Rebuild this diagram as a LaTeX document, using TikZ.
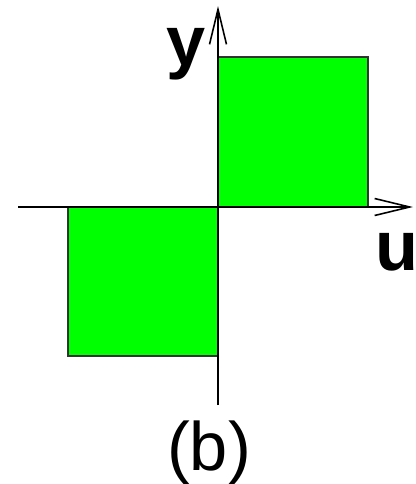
\documentclass[tikz,border=0pt]{standalone}
\usepackage{fontspec}
\setmainfont{Liberation Sans}
\usetikzlibrary{arrows.meta}

\begin{document}
\begin{tikzpicture}[
  x=0.02cm, y=-0.02cm,
  axis/.style={line width=0.9pt, -{Straight Barb[length=7mm, width=3.4mm, line width=0.9pt]}},
  quad/.style={draw=black!80, line width=0.6pt, fill=green},
  lbl/.style={anchor=base, inner sep=0pt, font=\fontsize{40}{40}\selectfont\bfseries},
  captxt/.style={anchor=base, inner sep=0pt, font=\fontsize{39}{39}\selectfont}
]
\useasboundingbox (0,0) rectangle (416,484);
% squares
\draw[quad] (218,57) rectangle (368,207);
\draw[quad] (68,207) rectangle (218,356);
% axes
\coordinate (o) at (218,207);
\coordinate (xl) at (18,207);
\coordinate (xr) at (413,207);
\coordinate (yb) at (218,405);
\coordinate (yt) at (218,6);
\draw[axis] (xl) -- (xr);
\draw[axis] (yb) -- (yt);
% labels
\node[lbl] (ylab) at (186,65) {y};
\node[lbl] (ulab) at (397,270) {u};
\node[captxt] (title) at (209,470) {(b)};
\end{tikzpicture}
\end{document}
